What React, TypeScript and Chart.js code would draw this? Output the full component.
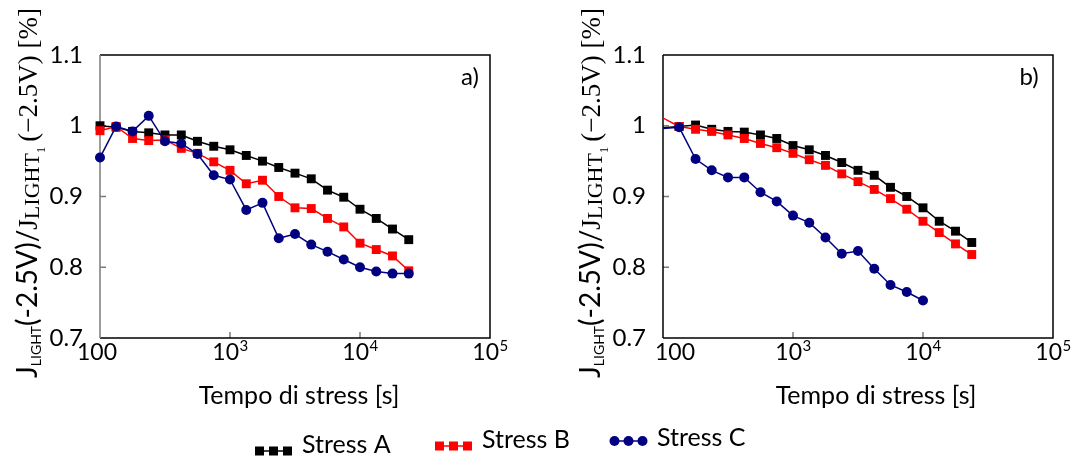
import React, { useEffect, useRef } from "react";
import { Chart, registerables } from "chart.js";

Chart.register(...registerables);

// Measurement times (s), eight per decade
const TEMPI_A = [100, 133, 178, 237, 316, 422, 562, 750, 1000, 1334, 1778, 2371, 3162, 4217, 5623, 7499, 10000, 13335, 17783, 23714];
const TEMPI_B = [75, 133, 178, 237, 316, 422, 562, 750, 1000, 1334, 1778, 2371, 3162, 4217, 5623, 7499, 10000, 13335, 17783, 23714];

// Panel a) normalised J_LIGHT
const A_STRESS_A = [1.0, 0.998, 0.992, 0.99, 0.987, 0.987, 0.978, 0.971, 0.966, 0.958, 0.95, 0.941, 0.933, 0.925, 0.909, 0.899, 0.882, 0.869, 0.854, 0.839];
const A_STRESS_B = [0.993, 0.999, 0.982, 0.979, 0.98, 0.968, 0.961, 0.949, 0.937, 0.918, 0.923, 0.9, 0.884, 0.883, 0.869, 0.857, 0.834, 0.825, 0.816, 0.795];
const A_STRESS_C = [0.955, 0.999, 0.992, 1.014, 0.978, 0.975, 0.96, 0.93, 0.924, 0.881, 0.891, 0.841, 0.847, 0.832, 0.822, 0.811, 0.8, 0.794, 0.791, 0.791];

// Panel b) normalised J_LIGHT
const B_STRESS_A = [0.995, 0.999, 1.001, 0.995, 0.992, 0.991, 0.987, 0.982, 0.972, 0.966, 0.958, 0.948, 0.937, 0.93, 0.913, 0.9, 0.884, 0.865, 0.851, 0.835];
const B_STRESS_B = [1.023, 0.999, 0.995, 0.992, 0.987, 0.982, 0.975, 0.969, 0.961, 0.952, 0.944, 0.932, 0.921, 0.91, 0.897, 0.882, 0.865, 0.849, 0.833, 0.818];
const B_STRESS_C = [0.994, 0.998, 0.953, 0.937, 0.927, 0.927, 0.906, 0.893, 0.873, 0.863, 0.842, 0.819, 0.823, 0.798, 0.775, 0.765, 0.753];

const X_TICKS = [100, 1000, 10000, 100000];
const Y_TICKS = [0.7, 0.8, 0.9, 1.0, 1.1];
const Y_INNER_TICKS = [0.8, 0.9, 1.0];
const SERIES_NAMES = ["Stress A", "Stress B", "Stress C"];
const SERIES_COLORS = ["#000000", "#ff0000", "#000080"];
const PANEL_TAGS = ["a)", "b)"];
const X_TITLE = "Tempo di stress [s]";

const SANS = "Lato";
const SERIF = "Liberation Serif";

// y-axis title: J_LIGHT(-2.5V)/J_LIGHT_1(−2.5V) [%]
const Y_TITLE_RUNS = [
  { text: "J", family: SANS, size: 28, dy: 0, gap: 0 },
  { text: "LIGHT", family: SANS, size: 14, dy: 4, gap: 0 },
  { text: "(-2.5V)/", family: SANS, size: 28, dy: 0, gap: 0 },
  { text: "J", family: SERIF, size: 27, dy: 0, gap: 0 },
  { text: "LIGHT", family: SERIF, size: 22, dy: 2, gap: 0 },
  { text: "1", family: SERIF, size: 13, dy: 8, gap: 5 },
  { text: "(\u22122.5V) [%]", family: SERIF, size: 27, dy: 0, gap: 0 },
];

const fmtY = (v: number) => {
  const r = Math.round(v * 10) / 10;
  return r === 1 ? "1" : r.toFixed(1);
};

const decor = {
  id: "panelDecor",
  beforeDatasetsDraw(chart: any, _a: any, opts: any) {
    const { ctx, chartArea, scales } = chart;
    const { left, right, top, bottom } = chartArea;
    ctx.save();
    ctx.lineWidth = 1.5;
    ctx.strokeStyle = "#7a7a7a";
    ctx.beginPath();
    for (const v of Y_INNER_TICKS) {
      const py = scales.y.getPixelForValue(v);
      ctx.moveTo(left, py);
      ctx.lineTo(left + 6, py);
    }
    for (const v of X_TICKS.slice(1, 3)) {
      const px = scales.x.getPixelForValue(v);
      ctx.moveTo(px, bottom);
      ctx.lineTo(px, bottom - 6);
    }
    ctx.stroke();
    ctx.strokeStyle = "#000";
    ctx.beginPath();
    ctx.moveTo(left, top);
    ctx.lineTo(right, top);
    ctx.lineTo(right, bottom);
    ctx.lineTo(left, bottom);
    ctx.stroke();
    ctx.strokeStyle = opts.leftSpine;
    ctx.beginPath();
    ctx.moveTo(left, top);
    ctx.lineTo(left, bottom);
    ctx.stroke();
    ctx.restore();
  },
  afterDraw(chart: any, _a: any, opts: any) {
    const { ctx, scales } = chart;
    ctx.save();
    ctx.fillStyle = "#000";
    ctx.textBaseline = "alphabetic";

    // x tick labels with superscript exponents
    X_TICKS.forEach((v, i) => {
      const px = scales.x.getPixelForValue(v) + (i === 0 ? opts.firstDx : 0);
      const exp = Math.round(Math.log10(v));
      if (exp === 2) {
        ctx.font = `23px ${SANS}`;
        ctx.textAlign = "center";
        ctx.fillText(String(v), px, 360);
      } else {
        ctx.textAlign = "left";
        ctx.font = `23px ${SANS}`;
        const w1 = ctx.measureText("10").width;
        ctx.font = `15px ${SANS}`;
        const w2 = ctx.measureText(String(exp)).width;
        const x0 = px - (w1 + w2) / 2;
        ctx.font = `23px ${SANS}`;
        ctx.fillText("10", x0, 360);
        ctx.font = `15px ${SANS}`;
        ctx.fillText(String(exp), x0 + w1 + 0.5, 351);
      }
    });

    // x title
    ctx.font = `25px ${SANS}`;
    ctx.textAlign = "center";
    ctx.fillText(X_TITLE, opts.xTitleX, 404);

    // panel tag
    ctx.font = `24px ${SANS}`;
    ctx.fillText(opts.tag, opts.tagX, 85);

    // rotated y title
    ctx.translate(opts.yTitleX, opts.yTitleY);
    ctx.rotate(-Math.PI / 2);
    ctx.textAlign = "left";
    let cx = 0;
    for (const r of Y_TITLE_RUNS) {
      ctx.font = `${r.size}px "${r.family}"`;
      ctx.fillText(r.text, cx, r.dy);
      cx += ctx.measureText(r.text).width + r.gap;
    }
    ctx.restore();
  },
};

type PanelProps = {
  left: number;
  times: number[];
  series: number[][];
  tag: string;
  clip: any;
  leftSpine: string;
  firstDx: number;
  xTitleX: number;
  tagX: number;
};

function Panel(p: PanelProps) {
  const ref = useRef<HTMLCanvasElement | null>(null);
  useEffect(() => {
    if (!ref.current) return;
    const styles = [
      { pointStyle: "rect", radius: 6.3 },
      { pointStyle: "rect", radius: 6.3 },
      { pointStyle: "circle", radius: 5 },
    ];
    const datasets = p.series.map((vals, i) => ({
      label: SERIES_NAMES[i],
      data: vals.map((y, j) => ({ x: p.times[j], y })),
      borderColor: SERIES_COLORS[i],
      backgroundColor: SERIES_COLORS[i],
      borderWidth: 1.5,
      pointStyle: styles[i].pointStyle,
      pointRadius: styles[i].radius,
      pointBorderWidth: 0,
      pointBackgroundColor: SERIES_COLORS[i],
      tension: 0,
      clip: p.clip,
      order: 3 - i,
    }));
    const chart = new Chart(ref.current, {
      type: "line",
      data: { datasets } as any,
      plugins: [decor as any],
      options: {
        animation: false,
        responsive: false,
        maintainAspectRatio: false,
        devicePixelRatio: 1,
        layout: { padding: { left: 0, right: 27, top: 55, bottom: 0 } },
        plugins: {
          legend: { display: false },
          tooltip: { enabled: false },
          panelDecor: {
            tag: p.tag,
            leftSpine: p.leftSpine,
            firstDx: p.firstDx,
            xTitleX: p.xTitleX,
            tagX: p.tagX,
            yTitleX: 37,
            yTitleY: 378,
          },
        } as any,
        scales: {
          x: {
            type: "logarithmic",
            min: 100,
            max: 100000,
            grid: { display: false },
            border: { display: false },
            ticks: { display: false },
            afterBuildTicks: (s: any) => {
              s.ticks = X_TICKS.map((value) => ({ value }));
            },
            afterFit: (s: any) => {
              s.height = 77;
            },
          },
          y: {
            type: "linear",
            min: 0.7,
            max: 1.1,
            grid: { display: false },
            border: { display: false },
            ticks: {
              color: "#000",
              font: { family: SANS, size: 24 },
              padding: 9,
              callback: (v: any) => fmtY(Number(v)),
            },
            afterBuildTicks: (s: any) => {
              s.ticks = Y_TICKS.map((value) => ({ value }));
            },
            afterFit: (s: any) => {
              s.width = 100;
            },
          },
        } as any,
      },
    });
    return () => chart.destroy();
  }, []);
  return (
    <canvas
      ref={ref}
      width={517}
      height={415}
      style={{ position: "absolute", left: p.left, top: 0, width: 517, height: 415 }}
    />
  );
}

function Legend() {
  const ref = useRef<HTMLCanvasElement | null>(null);
  useEffect(() => {
    const c = ref.current;
    if (!c) return;
    const ctx = c.getContext("2d")!;
    ctx.clearRect(0, 0, c.width, c.height);
    const items = [
      { x: 255, mid: 36, base: 38, shape: "rect" },
      { x: 435, mid: 31, base: 33, shape: "rect" },
      { x: 610, mid: 26, base: 31, shape: "circle" },
    ];
    items.forEach((it, i) => {
      const col = SERIES_COLORS[i];
      ctx.strokeStyle = col;
      ctx.fillStyle = col;
      ctx.lineWidth = 1.5;
      ctx.beginPath();
      ctx.moveTo(it.x, it.mid);
      ctx.lineTo(it.x + 37, it.mid);
      ctx.stroke();
      [4.5, 18.5, 32.5].forEach((d) => {
        const cx = it.x + d;
        if (it.shape === "rect") {
          ctx.fillRect(cx - 4.5, it.mid - 4.5, 9, 9);
        } else {
          ctx.beginPath();
          ctx.arc(cx, it.mid, 5, 0, Math.PI * 2);
          ctx.fill();
        }
      });
      ctx.fillStyle = "#000";
      ctx.font = `25px ${SANS}`;
      ctx.textBaseline = "alphabetic";
      ctx.fillText(SERIES_NAMES[i], it.x + 47, it.base);
    });
  }, []);
  return (
    <canvas
      ref={ref}
      width={1080}
      height={42}
      style={{ position: "absolute", left: 0, top: 415, width: 1080, height: 42 }}
    />
  );
}

export default function App() {
  return (
    <div
      style={{
        position: "absolute",
        left: 0,
        top: 0,
        width: 1080,
        height: 457,
        background: "#fff",
        overflow: "hidden",
      }}
    >
      <Panel
        left={0}
        times={TEMPI_A}
        series={[A_STRESS_A, A_STRESS_B, A_STRESS_C]}
        tag={PANEL_TAGS[0]}
        clip={false}
        leftSpine="#7a7a7a"
        firstDx={-3}
        xTitleX={299}
        tagX={470}
      />
      <Panel
        left={563}
        times={TEMPI_B}
        series={[B_STRESS_A, B_STRESS_B, B_STRESS_C]}
        tag={PANEL_TAGS[1]}
        clip={0}
        leftSpine="#000"
        firstDx={12}
        xTitleX={313}
        tagX={466}
      />
      <Legend />
    </div>
  );
}
